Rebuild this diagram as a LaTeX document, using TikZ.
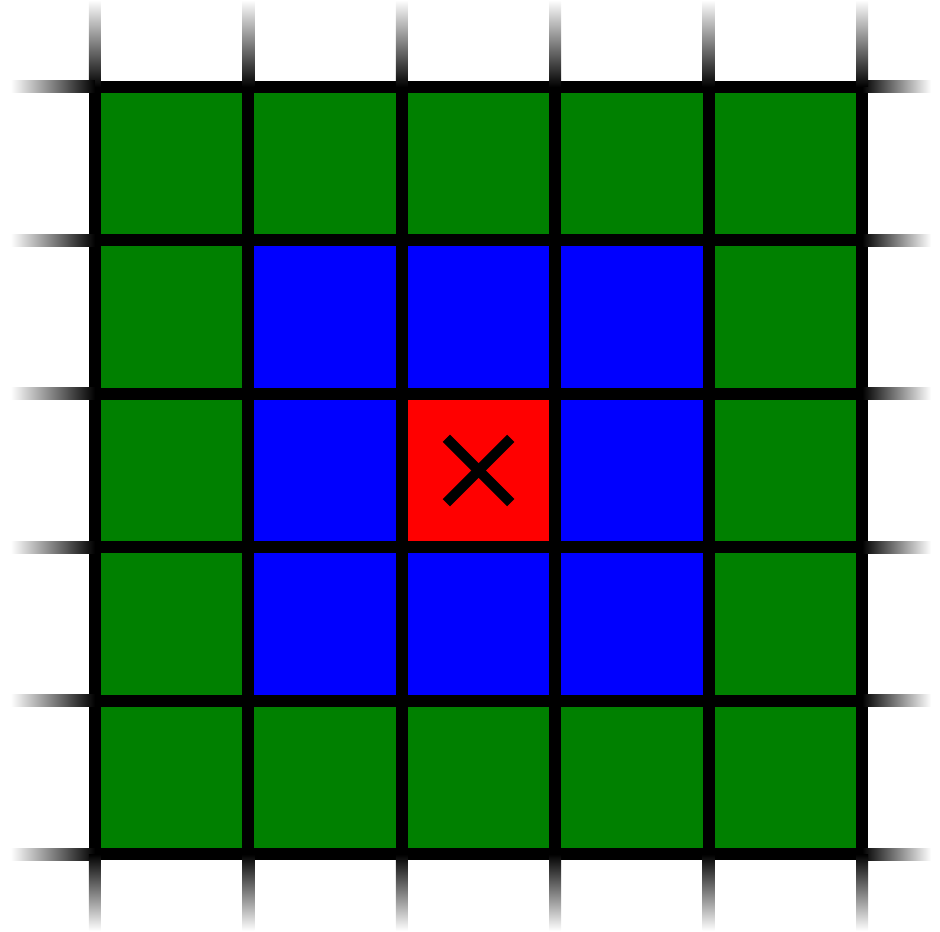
\documentclass[tikz,border=0pt]{standalone}
\usetikzlibrary{calc}
\definecolor{ring}{HTML}{008000}
\definecolor{near}{HTML}{0000FF}
\definecolor{centre}{HTML}{FF0000}

\begin{document}
\begin{tikzpicture}[x=1cm,y=1cm,
    gridline/.style={line width=2.2pt,black},
    crossline/.style={line width=1.9pt,black}]
  \useasboundingbox (-0.619,-0.502) rectangle (5.508,5.567);

  % outer ring of cells
  \foreach \i in {0,...,4}
    \foreach \j in {0,...,4}
      \fill[ring] (\i,\j) rectangle ++(1,1);

  % neighbours
  \foreach \i in {1,2,3}
    \foreach \j in {1,2,3}
      \fill[near] (\i,\j) rectangle ++(1,1);

  % centre cell
  \fill[centre] (2,2) rectangle (3,3);

  % grid
  \draw[gridline] (0,0) grid (5,5);

  % fading line ends
  \foreach \k in {0,...,5} {
    \shade[left color=white,right color=black] (-0.55,\k-0.039) rectangle (0,\k+0.039);
    \shade[left color=black,right color=white] (5,\k-0.039) rectangle (5.45,\k+0.039);
    \shade[top color=white,bottom color=black] (\k-0.039,5) rectangle (\k+0.039,5.567);
    \shade[top color=black,bottom color=white] (\k-0.039,-0.5) rectangle (\k+0.039,0);
  }

  % cross in the centre
  \draw[crossline] (2.29,2.29) -- (2.71,2.71);
  \draw[crossline] (2.29,2.71) -- (2.71,2.29);
\end{tikzpicture}
\end{document}
